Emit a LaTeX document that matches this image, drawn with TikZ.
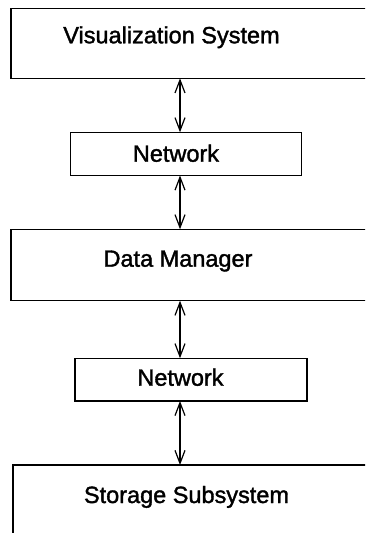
\documentclass[tikz,border=0pt]{standalone}
\usepackage{fontspec}
\setmainfont{Liberation Sans}[FakeBold=1.5]
\usetikzlibrary{arrows.meta}
\tikzset{
  boxnode/.style={draw=black, line width=1.3pt, inner sep=0pt, outer sep=0pt, rectangle},
  labelnode/.style={anchor=base, inner sep=0pt, font=\fontsize{23.5}{28}\selectfont},
  linkarrow/.style={line width=1.2pt, {Straight Barb[length=13pt,width=10pt,line width=1.2pt]}-{Straight Barb[length=13pt,width=10pt,line width=1.2pt]}}
}
\begin{document}
\begin{tikzpicture}[x=1pt,y=-1pt]
\useasboundingbox (0,0) rectangle (365,533);
\clip (0,0) rectangle (365,533);
\fill[white] (0,0) rectangle (365,533);
% boxes
\node[boxnode, minimum width=364pt, minimum height=70pt] (vis) at (193,43.3) {};
\node[boxnode, minimum width=231pt, minimum height=43.2pt] (net1) at (186.2,153.9) {};
\node[boxnode, minimum width=364pt, minimum height=71.4pt] (dm) at (193,265) {};
\node[boxnode, minimum width=232pt, minimum height=42.7pt] (net2) at (191,379.6) {};
\node[boxnode, minimum width=362pt, minimum height=80pt] (store) at (194,505) {};
% labels
\node[labelnode] (visl) at (171.5,43.3) {Visualization System};
\node[labelnode] (net1l) at (176,161.7) {Network};
\node[labelnode] (dml) at (178,266.7) {Data Manager};
\node[labelnode] (net2l) at (180.5,385.7) {Network};
\node[labelnode] (storel) at (186.5,503) {Storage Subsystem};
% arrows
\coordinate (ax) at (180,0);
\draw[linkarrow] (vis.south -| ax) -- (net1.north -| ax);
\draw[linkarrow] (net1.south -| ax) -- (dm.north -| ax);
\draw[linkarrow] (dm.south -| ax) -- (net2.north -| ax);
\draw[linkarrow] (net2.south -| ax) -- (store.north -| ax);
\end{tikzpicture}
\end{document}
